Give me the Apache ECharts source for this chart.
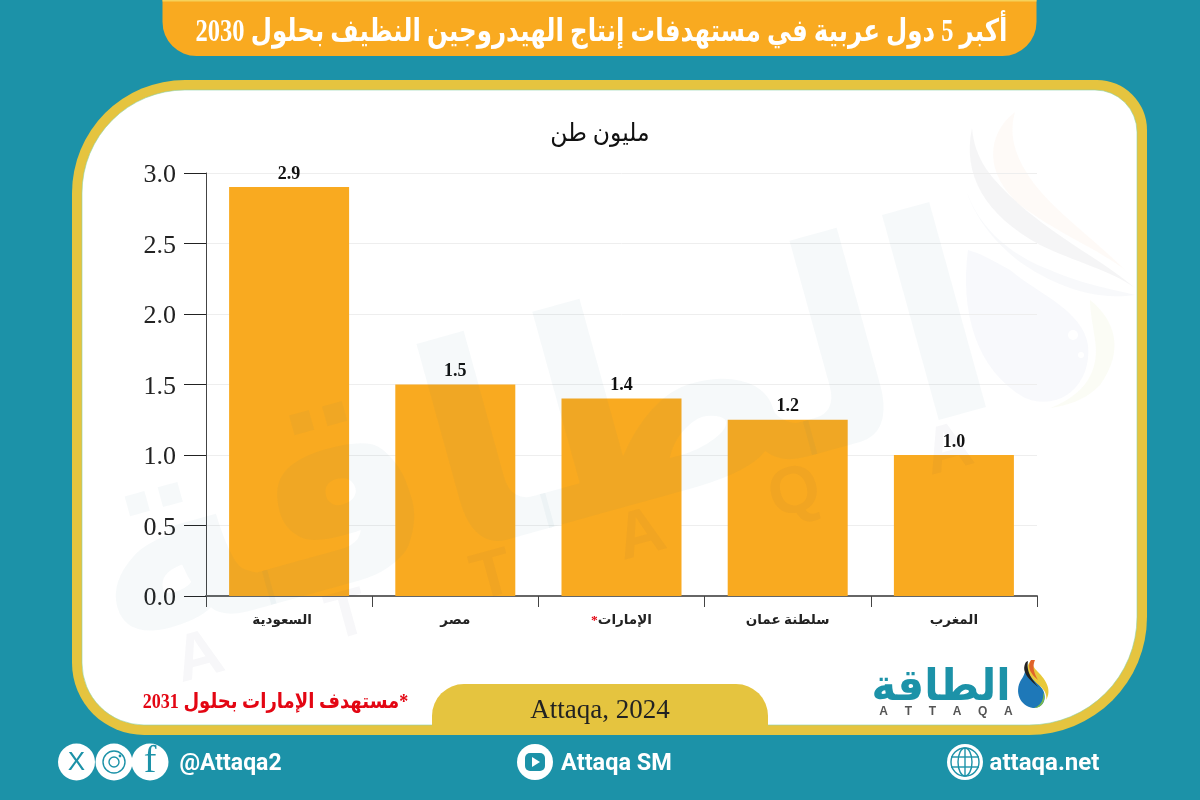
<!DOCTYPE html>
<html><head><meta charset="utf-8">
<script src="https://cdn.jsdelivr.net/npm/echarts@6/dist/echarts.min.js"></script>
<style>html,body{margin:0;padding:0;background:#1C92A8}#c{width:1200px;height:800px}</style>
</head><body><div id="c"></div>
<script>
const categories = ['السعودية','مصر','الإمارات*','سلطنة عمان','المغرب'];
const values = [2.9,1.5,1.4,1.25,1.0];
const valueLabels = ['2.9','1.5','1.4','1.2','1.0'];
const yTicks = {min:0,max:3,interval:0.5};
const titleText = 'أكبر 5 دول عربية في مستهدفات إنتاج الهيدروجين النظيف بحلول 2030';
const unitText = 'مليون طن';
const sourceText = 'Attaqa, 2024';
const noteText = '\u200f*مستهدف الإمارات بحلول 2031';
const logoText = 'الطاقة';
const handles = ['@Attaqa2','Attaqa SM','attaqa.net'];

const TEAL='#1C92A8', GOLD='#E5C43F', ORANGE='#F9AA20';
const SERIF='"Liberation Serif","DejaVu Sans",serif';
const SANS='Roboto,"Liberation Sans",sans-serif';
const AR='"Liberation Serif","DejaVu Sans",sans-serif';

function txt(x,y,text,font,fill,o){return Object.assign({type:'text',x,y,z:5,silent:true,
  style:{text,font,fill,textAlign:'center',textVerticalAlign:'middle'}},o||{});}
function circ(cx,cy,r,fill,o){return Object.assign({type:'circle',z:4,silent:true,shape:{cx,cy,r},style:{fill}},o||{});}
function outline(d){
  const t=d.replace(/([MCLZ])/g,' $1 ').trim().split(/\s+/);
  const pts=[];let i=0,cmd='',p=[0,0];
  while(i<t.length){
    if(/[MCLZ]/.test(t[i])){cmd=t[i++];if(cmd==='Z')continue;}
    if(cmd==='M'||cmd==='L'){p=[+t[i],+t[i+1]];i+=2;pts.push(p);}
    else if(cmd==='C'){
      const a=[+t[i],+t[i+1]],b=[+t[i+2],+t[i+3]],c=[+t[i+4],+t[i+5]];i+=6;
      for(let k=1;k<=16;k++){const s=k/16,u=1-s;
        pts.push([u*u*u*p[0]+3*u*u*s*a[0]+3*u*s*s*b[0]+s*s*s*c[0],u*u*u*p[1]+3*u*u*s*a[1]+3*u*s*s*b[1]+s*s*s*c[1]]);}
      p=c;
    }
  }
  return pts;
}
function path(d,style,z){return {type:'polygon',z:z==null?4:z,silent:true,shape:{points:outline(d)},style};}

const wm='rgba(40,105,150,0.045)';
const graphics=[
  {type:'rect',z:-5,silent:true,shape:{x:162.5,y:-30,width:874,height:86,r:[0,0,34,34]},style:{fill:ORANGE}},
  {type:'rect',z:-4,silent:true,shape:{x:162.5,y:0,width:874,height:1.5},style:{fill:'#F6D25A'}},
  txt(601.5,33,titleText,'bold 31px '+AR,'#fff',{scaleX:0.79}),
  {type:'rect',z:-5,silent:true,shape:{x:72,y:80,width:1075,height:655,r:[113,50,118,72]},style:{fill:GOLD}},
  {type:'rect',z:-4,silent:true,shape:{x:82,y:90,width:1055,height:635,r:[103,42,108,62]},style:{fill:'#fff',stroke:'#8CD2A8',lineWidth:0.6}},
  path('M972 128 C962 175 985 215 1040 245 C1075 262 1110 270 1135 288 C1105 262 1060 240 1020 205 C990 178 975 160 972 128 Z',{fill:'rgba(60,60,80,0.05)'},-3),
  path('M1015 112 C985 135 985 175 1020 205 C1060 235 1100 250 1125 270 C1090 235 1045 205 1025 170 C1012 148 1010 130 1015 112 Z',{fill:'rgba(240,150,90,0.05)'},-3),
  path('M962 175 C972 225 1010 255 1050 270 C1085 285 1115 290 1135 295 C1100 300 1060 290 1020 262 C985 235 968 205 962 175 Z',{fill:'rgba(60,90,130,0.035)'},-3),
  path('M968 250 C960 310 975 370 1025 398 C1060 412 1092 385 1088 345 C1082 310 1040 295 1010 270 C995 262 985 255 968 250 Z',{fill:'rgba(60,90,170,0.035)'},-3),
  path('M1090 300 C1115 320 1125 350 1100 385 C1085 400 1070 405 1050 408 C1085 395 1100 370 1095 340 C1093 325 1090 312 1090 300 Z',{fill:'rgba(180,200,60,0.05)'},-3),
  circ(1073,335,5,'#fff',{z:-2}),circ(1081,355,3,'#fff',{z:-2}),
  txt(540,455,logoText,'bold 280px "DejaVu Sans"',wm,{rotation:0.27,z:20}),
  txt(574,555,'A      T      T      A      Q      A','bold 66px "Liberation Sans"','rgba(60,60,90,0.04)',{rotation:0.27,z:20}),
  {type:'rect',z:-3,silent:true,shape:{x:432,y:684,width:336,height:51,r:[32,32,0,0]},style:{fill:GOLD}},
  txt(600,711,sourceText,'27px '+SERIF,'#222'),
  txt(275.5,703,noteText,'bold 21px '+AR,'#E30613',{scaleX:0.86}),
  txt(600,134,unitText,'25px '+AR,'#111',{scaleX:0.94}),
  txt(941,689,logoText,'bold 44px "DejaVu Sans"',TEAL,{scaleX:0.95}),
  txt(946,712,'A     T     T     A     Q     A','bold 12px "Liberation Sans"','#555'),
  path('M1021 680 C1014 692 1020 706 1033 708 C1044 708 1047 698 1043 690 C1038 682 1030 677 1026 668 C1025 672 1024 676 1021 680 Z',{fill:'#1E78B8'}),
  path('M1032 660 C1022 668 1030 678 1040 686 C1046 691 1047 697 1046 700 C1052 690 1046 680 1038 672 C1034 668 1032 665 1032 660 Z',{fill:'#E8C93A'}),
  path('M1026 662 C1020 672 1030 680 1038 687 C1032 679 1026 672 1028 661 Z',{fill:'#222'}),
  path('M1031 660 C1026 668 1032 675 1038 680 C1034 673 1032 667 1035 660 Z',{fill:'#E0632A'}),
  path('M1043 692 C1047 700 1042 708 1034 708 C1042 705 1044 698 1043 692 Z',{fill:'#7DBB4A'}),
  circ(76.5,762,18.5,'#fff'),circ(114,762,18.5,'#fff'),circ(150,762,18.5,'#fff'),
  txt(76.5,763,'X','26px "Liberation Sans"',TEAL),
  circ(114,762,11,'none',{z:5,style:{fill:'none',stroke:TEAL,lineWidth:1.4}}),
  circ(114,762,5,'none',{z:5,style:{fill:'none',stroke:TEAL,lineWidth:1.4}}),
  circ(120,756,1.4,TEAL,{z:5}),
  txt(150,762,'f','38px "Liberation Serif"',TEAL),
  txt(230.5,764,handles[0],'bold 23px '+SANS,'#fff'),
  circ(535,762,18,'#fff'),
  {type:'rect',z:5,silent:true,shape:{x:525,y:753,width:20,height:18,r:5},style:{fill:TEAL}},
  path('M532 757 L540 762 L532 767 Z',{fill:'#fff'},6),
  txt(616.5,764,handles[1],'bold 23.5px '+SANS,'#fff'),
  circ(965,762,18,'#fff'),
  circ(965,762,14,'none',{z:5,style:{fill:'none',stroke:TEAL,lineWidth:1.4}}),
  {type:'ellipse',z:5,silent:true,shape:{cx:965,cy:762,rx:7,ry:14},style:{fill:'none',stroke:TEAL,lineWidth:1.4}},
  {type:'line',z:5,silent:true,shape:{x1:951,y1:757,x2:979,y2:757},style:{stroke:TEAL,lineWidth:1.4}},
  {type:'line',z:5,silent:true,shape:{x1:951,y1:767,x2:979,y2:767},style:{stroke:TEAL,lineWidth:1.4}},
  {type:'line',z:5,silent:true,shape:{x1:965,y1:748,x2:965,y2:776},style:{stroke:TEAL,lineWidth:1.4}},
  txt(1044.5,764,handles[2],'bold 24px '+SANS,'#fff')
];

const lab={color:'#222',fontSize:13.5,fontWeight:'bold',fontFamily:AR};
const chart=echarts.init(document.getElementById('c'),null,{renderer:'canvas'});
chart.setOption({
  animation:false,
  backgroundColor:TEAL,
  grid:{left:206,right:163,top:173,bottom:204,containLabel:false},
  xAxis:{type:'category',data:categories,boundaryGap:true,
    axisLine:{show:true,lineStyle:{color:'#666',width:2}},
    axisTick:{show:true,length:11,alignWithLabel:false,lineStyle:{color:'#444',width:1}},
    axisLabel:Object.assign({margin:18,interval:0,
      formatter:(v,i)=>v.endsWith('*')?'{r|*}{a|'+v.slice(0,-1)+'}':(i===0?'{s|'+v+'}':'{a|'+v+'}'),
      rich:{a:lab,s:Object.assign({padding:[0,14,0,0]},lab),r:Object.assign({},lab,{color:'#E30613'})}},lab)},
  yAxis:{type:'value',min:yTicks.min,max:yTicks.max,interval:yTicks.interval,
    axisLine:{show:true,onZero:false,lineStyle:{color:'#444',width:1}},
    axisTick:{show:true,length:22,lineStyle:{color:'#222',width:1}},
    axisLabel:{margin:30,verticalAlign:'top',lineHeight:5,color:'#222',fontSize:26,fontFamily:SERIF,formatter:v=>v.toFixed(1)},
    splitLine:{show:true,lineStyle:{color:'#EEEEEE',width:1}}},
  series:[{type:'bar',data:values,barWidth:120,itemStyle:{color:ORANGE},z:2,
    label:{show:true,position:'top',distance:4,color:'#111',fontSize:18,fontWeight:'bold',fontFamily:SERIF,
      formatter:p=>valueLabels[p.dataIndex]}}],
  graphic:{elements:graphics}
});
</script></body></html>
